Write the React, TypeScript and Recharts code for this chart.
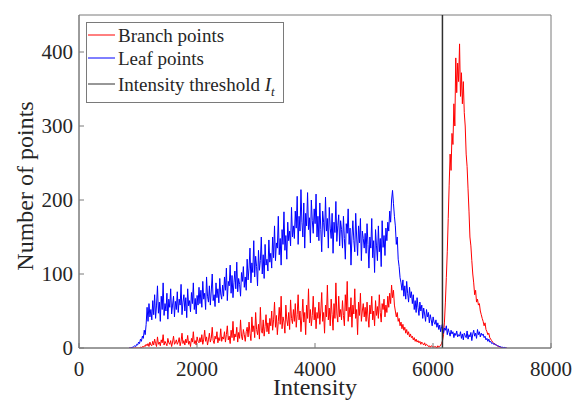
import React from 'react';
import { LineChart, Line, XAxis, YAxis, ReferenceLine, ReferenceArea, Legend } from 'recharts';

// Histogram bins: centre of bin i = BIN_START + i * BIN_WIDTH  (850 .. 7250)
const BIN_START = 850;
const BIN_WIDTH = 16;

// Leaf points counts per bin (rows of 25 bins = 400 intensity units)
const leafCounts = [
  0, 0, 0, 1, 1, 2, 3, 2, 5, 4, 8, 6, 12, 9, 16, 13, 24, 18, 32, 55, 36, 60, 42, 52, 38,
  64, 45, 72, 40, 58, 84, 47, 62, 36, 70, 52, 88, 44, 60, 50, 74, 39, 66, 55, 80, 46, 58, 70, 42, 63,
  52, 76, 48, 66, 58, 86, 45, 62, 72, 50, 68, 41, 80, 57, 64, 49, 75, 60, 88, 52, 67, 46, 71, 58, 82,
  60, 78, 55, 90, 66, 74, 52, 96, 70, 62, 84, 58, 77, 100, 64, 72, 56, 88, 68, 80, 61, 94, 73, 66, 85,
  70, 96, 78, 108, 64, 90, 84, 112, 74, 98, 68, 88, 104, 80, 116, 76, 94, 86, 70, 102, 90, 110, 82, 96, 78,
  120, 92, 108, 135, 88, 115, 102, 145, 96, 124, 110, 84, 132, 105, 118, 150, 100, 126, 94, 140, 112, 120, 104, 146, 116,
  128, 108, 150, 122, 165, 118, 142, 135, 178, 126, 148, 112, 160, 140, 184, 132, 152, 120, 170, 145, 158, 138, 190, 150, 165,
  148, 185, 162, 205, 140, 178, 158, 214, 170, 150, 196, 135, 182, 165, 210, 160, 176, 142, 200, 172, 155, 188, 168, 208, 150,
  178, 145, 196, 160, 130, 185, 170, 150, 204, 158, 175, 135, 190, 162, 148, 182, 128, 170, 156, 198, 144, 165, 180, 138, 172,
  160, 135, 178, 148, 120, 168, 155, 188, 140, 162, 112, 150, 172, 145, 130, 182, 150, 125, 165, 142, 175, 118, 158, 148, 135,
  155, 128, 168, 140, 108, 150, 135, 175, 122, 145, 102, 160, 138, 118, 165, 130, 148, 110, 172, 136, 152, 125, 162, 145, 170,
  158, 185, 170, 200, 213, 195, 178, 165, 140, 150, 120, 110, 95, 88, 78, 92, 70, 84, 66, 90, 74, 62, 82, 68, 76,
  60, 72, 52, 64, 48, 68, 55, 44, 62, 50, 58, 40, 54, 46, 36, 52, 42, 48, 34, 45, 38, 30, 42, 35, 32,
  38, 28, 34, 25, 31, 22, 29, 33, 20, 27, 24, 30, 18, 26, 21, 16, 24, 19, 22, 14, 20, 17, 23, 15, 18,
  16, 22, 13, 19, 11, 20, 17, 14, 23, 12, 18, 15, 21, 10, 19, 24, 16, 20, 13, 25, 18, 22, 15, 20, 17,
  19, 14, 16, 11, 13, 9, 12, 8, 9, 6, 7, 5, 6, 4, 4, 3, 3, 2, 2, 1, 1, 1, 0, 1, 0,
  0,
];

// Branch points counts per bin
const branchCounts = [
  0, 0, 0, 0, 0, 0, 0, 0, 0, 0, 0, 0, 1, 0, 2, 1, 3, 2, 5, 3, 6, 2, 8, 4, 3,
  9, 4, 12, 6, 2, 15, 5, 8, 3, 11, 7, 18, 4, 9, 6, 3, 13, 7, 5, 10, 2, 8, 16, 5, 7,
  11, 5, 8, 14, 3, 9, 20, 6, 10, 4, 12, 7, 17, 5, 9, 2, 13, 8, 22, 6, 10, 4, 15, 9, 7,
  14, 8, 18, 5, 12, 24, 9, 15, 4, 11, 20, 8, 13, 28, 10, 6, 16, 12, 22, 7, 14, 10, 26, 9, 15,
  12, 22, 8, 18, 30, 11, 16, 6, 24, 14, 36, 10, 19, 15, 28, 8, 21, 13, 38, 16, 11, 25, 18, 9, 22,
  28, 15, 35, 20, 10, 42, 22, 30, 14, 48, 25, 18, 32, 12, 55, 24, 20, 38, 16, 29, 45, 22, 34, 19, 40,
  30, 50, 24, 38, 62, 28, 44, 18, 36, 55, 32, 70, 26, 42, 35, 20, 58, 38, 30, 48, 25, 65, 40, 33, 52,
  36, 60, 28, 45, 72, 38, 50, 22, 42, 66, 35, 48, 18, 58, 40, 80, 34, 52, 30, 44, 70, 38, 55, 26, 48,
  40, 62, 32, 50, 75, 36, 48, 20, 58, 42, 85, 38, 54, 30, 66, 45, 24, 60, 40, 88, 46, 35, 70, 42, 52,
  38, 64, 44, 30, 72, 50, 90, 36, 55, 42, 68, 28, 58, 46, 80, 40, 52, 18, 62, 44, 74, 36, 50, 60, 42,
  55, 36, 62, 42, 28, 58, 46, 70, 38, 50, 30, 64, 44, 56, 40, 72, 48, 35, 60, 52, 66, 42, 58, 48, 70,
  55, 74, 60, 85, 68, 78, 58, 50, 42, 48, 36, 40, 30, 35, 26, 32, 24, 28, 20, 25, 18, 22, 15, 19, 14,
  16, 11, 14, 9, 12, 8, 10, 7, 9, 5, 8, 6, 4, 7, 3, 5, 4, 2, 3, 1, 3, 2, 1, 2, 1,
  2, 0, 3, 1, 2, 4, 6, 10, 18, 35, 62, 95, 130, 175, 220, 262, 240, 290, 275, 330, 300, 392, 345, 385, 360,
  411, 340, 372, 330, 360, 318, 300, 262, 245, 215, 185, 150, 138, 118, 100, 88, 72, 78, 62, 66, 58, 60, 50, 45, 40,
  36, 30, 34, 25, 22, 18, 20, 14, 12, 10, 8, 7, 5, 5, 4, 3, 2, 2, 1, 1, 0, 0, 0, 0, 0,
  0,
];

const xTicks = [0, 2000, 4000, 6000, 8000];
const yTicks = [0, 100, 200, 300, 400];
const xDomain = [0, 8000];
const yDomain = [0, 450];
const thresholdIntensity = 6160;
const legendLabels = ['Branch points', 'Leaf points', 'Intensity threshold '];
const xLabel = 'Intensity';
const yLabel = 'Number of points';

const data = leafCounts.map((v, i) => ({
  intensity: BIN_START + i * BIN_WIDTH,
  leaf: v,
  branch: branchCounts[i],
}));

const FONT = '"Liberation Serif", "Times New Roman", serif';
const AXIS = '#7a7a7a';
const TEXT = '#262626';
const RED = '#ff0000';
const BLUE = '#0000ff';
const BLACK = '#303030';

const BottomTick = (props: any) => {
  const { x, y, payload } = props;
  return (
    <g>
      <line x1={x} y1={y} x2={x} y2={y - 5} stroke={AXIS} strokeWidth={1} />
      <text x={x} y={y + 28} textAnchor="middle" fontSize={21} fontFamily={FONT} fill={TEXT}>
        {payload.value}
      </text>
    </g>
  );
};

const TopTick = (props: any) => {
  const { x, y } = props;
  return <line x1={x} y1={y} x2={x} y2={y + 5} stroke={AXIS} strokeWidth={1} />;
};

const LeftTick = (props: any) => {
  const { x, y, payload } = props;
  return (
    <g>
      <line x1={x} y1={y} x2={x + 5} y2={y} stroke={AXIS} strokeWidth={1} />
      <text x={x - 6} y={y + 7} textAnchor="end" fontSize={21} fontFamily={FONT} fill={TEXT}>
        {payload.value}
      </text>
    </g>
  );
};

const RightTick = (props: any) => {
  const { x, y } = props;
  return <line x1={x} y1={y} x2={x - 5} y2={y} stroke={AXIS} strokeWidth={1} />;
};

const XLabel = () => (
  <text x={315} y={395} textAnchor="middle" fontSize={24} fontFamily={FONT} fill={TEXT}>
    {xLabel}
  </text>
);

const YLabel = () => (
  <text
    x={33}
    y={186}
    transform="rotate(-90, 33, 186)"
    textAnchor="middle"
    fontSize={24}
    fontFamily={FONT}
    fill={TEXT}
  >
    {yLabel}
  </text>
);

const legendColors = [RED, BLUE, BLACK];

const LegendBox = () => (
  <svg width={200} height={82} style={{ display: 'block' }}>
    <rect x={0.5} y={0.5} width={197} height={80} fill="#fff" stroke={AXIS} />
    {legendLabels.map((label, i) => {
      const ly = [13, 36, 62][i];
      return (
        <g key={label}>
          <line x1={2} y1={ly} x2={29} y2={ly} stroke={legendColors[i]} strokeWidth={1} />
          <text x={32} y={ly + 6.5} fontSize={19} fontFamily={FONT} fill={TEXT}>
            {label}
            {i === 2 && <tspan fontStyle="italic">I</tspan>}
            {i === 2 && (
              <tspan fontStyle="italic" fontSize={13} dy={5}>
                t
              </tspan>
            )}
          </text>
        </g>
      );
    })}
  </svg>
);

export default function App() {
  return (
    <div style={{ position: 'absolute', left: 0, top: 0, background: '#fff' }}>
      <LineChart
        width={581}
        height={408}
        data={data}
        margin={{ top: 15, right: 30, left: 0, bottom: 0 }}
      >
        <XAxis
          dataKey="intensity"
          type="number"
          domain={xDomain}
          ticks={xTicks}
          interval={0}
          height={60}
          tickSize={0}
          tickMargin={0}
          tickLine={false}
          axisLine={{ stroke: AXIS, strokeWidth: 1 }}
          tick={<BottomTick />}
          allowDataOverflow
          label={<XLabel />}
        />
        <XAxis
          xAxisId="top"
          orientation="top"
          dataKey="intensity"
          type="number"
          domain={xDomain}
          ticks={xTicks}
          interval={0}
          height={0}
          tickSize={0}
          tickMargin={0}
          tickLine={false}
          axisLine={{ stroke: AXIS, strokeWidth: 1 }}
          tick={<TopTick />}
        />
        <YAxis
          type="number"
          domain={yDomain}
          ticks={yTicks}
          interval={0}
          width={79}
          tickSize={0}
          tickMargin={0}
          tickLine={false}
          axisLine={{ stroke: AXIS, strokeWidth: 1 }}
          tick={<LeftTick />}
          allowDataOverflow
          label={<YLabel />}
        />
        <YAxis
          yAxisId="right"
          orientation="right"
          type="number"
          domain={yDomain}
          ticks={yTicks}
          interval={0}
          width={0}
          tickSize={0}
          tickMargin={0}
          tickLine={false}
          axisLine={{ stroke: AXIS, strokeWidth: 1 }}
          tick={<RightTick />}
        />
        <ReferenceArea
          x1={xDomain[0]}
          x2={xDomain[1]}
          y1={yDomain[0]}
          y2={yDomain[1]}
          fill="none"
          fillOpacity={0}
          stroke={AXIS}
          strokeWidth={1}
          ifOverflow="visible"
        />
        <Line
          type="linear"
          dataKey="branch"
          stroke={RED}
          strokeWidth={1}
          dot={false}
          isAnimationActive={false}
        />
        <Line
          type="linear"
          dataKey="leaf"
          stroke={BLUE}
          strokeWidth={1}
          dot={false}
          isAnimationActive={false}
        />
        <ReferenceLine x={thresholdIntensity} stroke={BLACK} strokeWidth={1.5} />
        <Legend
          layout="vertical"
          align="center"
          verticalAlign="middle"
          content={<LegendBox />}
          wrapperStyle={{ position: 'absolute', left: 86, top: 22, width: 200, height: 82 }}
        />
      </LineChart>
    </div>
  );
}
